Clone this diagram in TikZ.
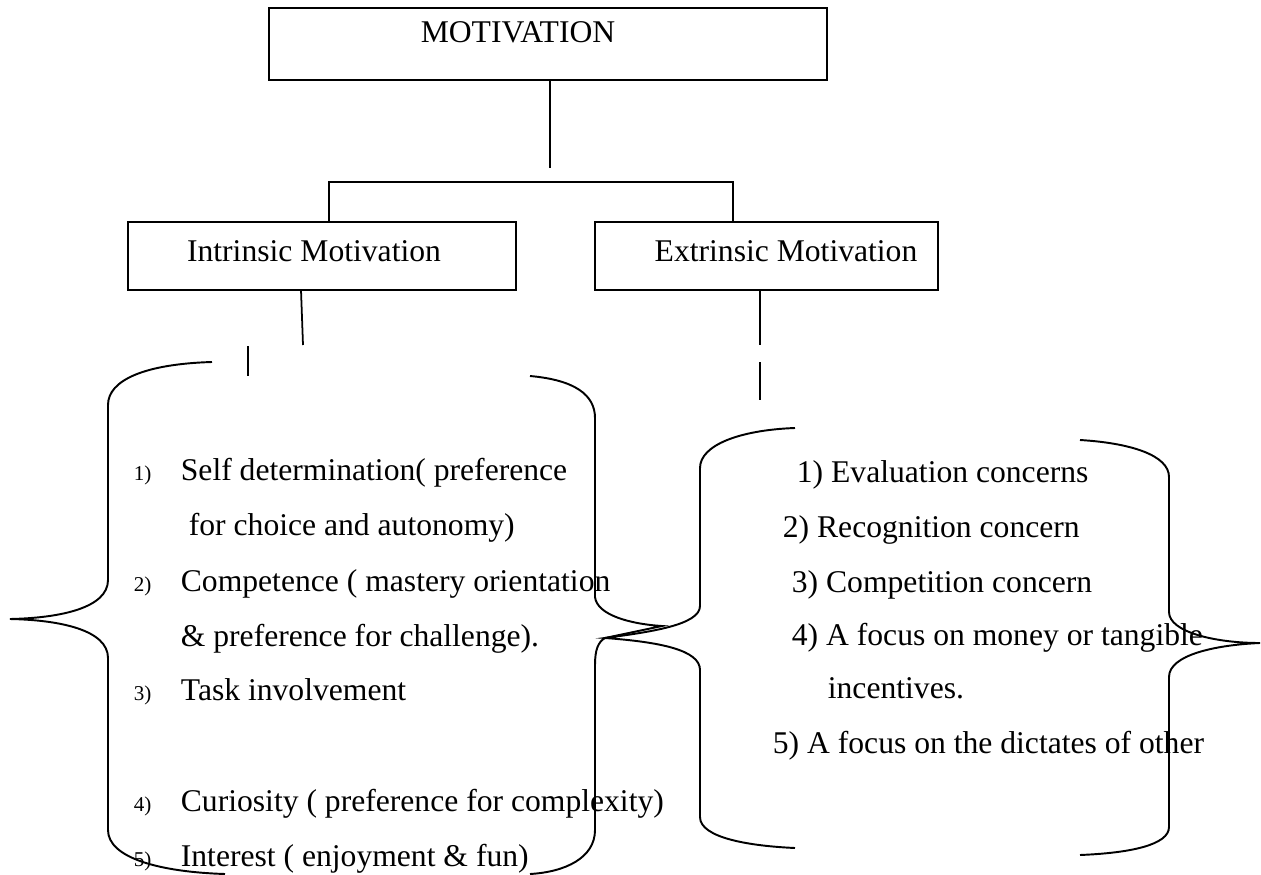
\documentclass[tikz,border=0pt]{standalone}
\usepackage{fontspec}
\setmainfont{Liberation Serif}
\begin{document}
\begin{tikzpicture}[x=0.02cm,y=-0.02cm,line width=1pt,
  boxnode/.style={draw,inner sep=0pt},
  title/.style={inner sep=0pt,font=\fontsize{18}{21}\selectfont},
  txt/.style={inner sep=0pt,anchor=base west,font=\fontsize{18}{21}\selectfont},
  num/.style={inner sep=0pt,anchor=base west,font=\fontsize{12}{14}\selectfont},
  brace/.style={line width=1.1pt}]
\useasboundingbox (0,0) rectangle (1261,875);
% boxes
\node[boxnode,minimum width=11.16cm,minimum height=1.44cm] (mot) at (548,44) {};
\node[title] (motT) at (518,32) {MOTIVATION};
\node[boxnode,minimum width=7.76cm,minimum height=1.36cm] (intr) at (322,256) {};
\node[title] (intrT) at (314,251) {Intrinsic Motivation};
\node[boxnode,minimum width=6.86cm,minimum height=1.36cm] (extr) at (766.5,256) {};
\node[title] (extrT) at (786,251) {Extrinsic Motivation};
% connectors
\coordinate (cA) at (550,168);
\coordinate (hL) at (329,182);
\coordinate (hR) at (733,182);
\draw (mot.south -| cA) -- (cA);
\draw (intr.north -| hL) -- (hL) -- (hR) -- (extr.north -| hR);
\coordinate (iTop) at (301,290);
\coordinate (iBot) at (303,345);
\coordinate (jTop) at (248,346);
\coordinate (jBot) at (248,376);
\draw (iTop) -- (iBot);
\draw (jTop) -- (jBot);
\coordinate (eTop) at (760,290);
\coordinate (eBot) at (760,345);
\coordinate (fTop) at (760,362);
\coordinate (fBot) at (760,400);
\draw (eTop) -- (eBot);
\draw (fTop) -- (fBot);
% intrinsic braces
\draw[brace] (212,362) .. controls (145,364) and (108,380) .. (108,405) -- (108,580)
  .. controls (108,608) and (60,618) .. (10,619)
  .. controls (60,620) and (108,630) .. (108,658) -- (108,830)
  .. controls (108,858) and (160,872) .. (225,874);
\draw[brace] (530,376) .. controls (575,380) and (595,395) .. (595,418) -- (595,597)
  .. controls (597,615) and (630,624) .. (662,626) -- (605,638)
  .. controls (598,642) and (595,650) .. (595,665) -- (595,830)
  .. controls (595,858) and (565,872) .. (530,874);
% extrinsic braces
\draw[brace] (795,428) .. controls (740,430) and (700,445) .. (700,468) -- (700,606)
  .. controls (700,625) and (650,632) .. (605,638)
  .. controls (660,642) and (700,650) .. (700,670) -- (700,817)
  .. controls (700,838) and (750,846) .. (795,848);
\draw[brace] (1080,440) .. controls (1130,443) and (1169,455) .. (1169,477) -- (1169,612)
  .. controls (1169,632) and (1215,643) .. (1260,643)
  .. controls (1215,645) and (1169,655) .. (1169,677) -- (1169,827)
  .. controls (1169,845) and (1130,853) .. (1080,855);
% intrinsic list
\node[num] (n1) at (133,480) {1)};
\node[txt] (i1) at (180,480) {Self determination( preference};
\node[txt] (i1b) at (188,535) {for choice and autonomy)};
\node[num] (n2) at (133,591) {2)};
\node[txt] (i2) at (180,591) {Competence ( mastery orientation};
\node[txt] (i2b) at (180,646) {\& preference for challenge).};
\node[num] (n3) at (133,700) {3)};
\node[txt] (i3) at (180,700) {Task involvement};
\node[num] (n4) at (133,811) {4)};
\node[txt] (i4) at (180,811) {Curiosity ( preference for complexity)};
\node[num] (n5) at (133,866) {5)};
\node[txt] (i5) at (180,866) {Interest ( enjoyment \& fun)};
% extrinsic list
\node[txt] (e1) at (796,482) {1) Evaluation concerns};
\node[txt] (e2) at (782,537) {2) Recognition concern};
\node[txt] (e3) at (791,592) {3) Competition concern};
\node[txt] (e4) at (791,645) {4) A focus on money or tangible};
\node[txt] (e4b) at (827,698) {incentives.};
\node[txt] (e5) at (772,753) {5) A focus on the dictates of other};
\end{tikzpicture}
\end{document}
